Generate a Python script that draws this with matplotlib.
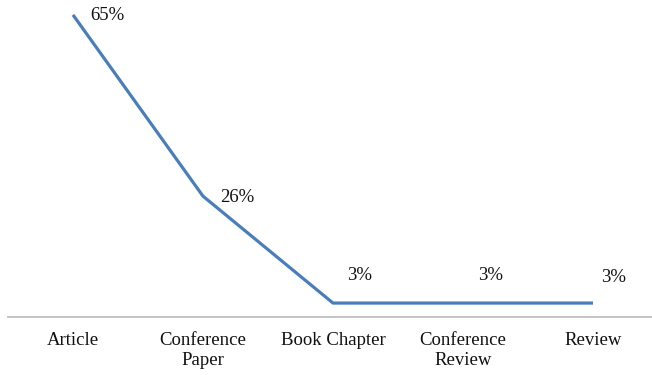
import matplotlib.pyplot as plt

categories = ['Article', 'Conference\nPaper', 'Book Chapter', 'Conference\nReview', 'Review']
shares = [65, 26, 3, 3, 3]
label_offsets = [(34, -1), (34, -1), (27, 28), (28, 28), (21, 26)]

plt.rcParams['font.family'] = ['Liberation Serif', 'DejaVu Serif']

fig = plt.figure(figsize=(6.52, 3.75), dpi=100)
ax = fig.add_axes([8 / 652, 58 / 375, 1 - 8 / 652, 317 / 375])

x = range(len(categories))
ax.plot(x, shares, color='#4A7EBB', linewidth=2.3, solid_capstyle='butt')

for i, v in enumerate(shares):
    ax.annotate(f'{v}%', (i, v), xytext=label_offsets[i], textcoords='offset pixels',
                ha='center', va='center', fontsize=13.5, color='#111111')

ax.set_xlim(-0.5, 4.454)
ax.set_ylim(0, 68.2)
ax.set_xticks(list(x))
ax.set_xticklabels(categories, fontsize=13.5, color='#111111', linespacing=1.22)
ax.tick_params(axis='x', length=0, pad=11)
ax.set_yticks([])
for side in ['top', 'right', 'left']:
    ax.spines[side].set_visible(False)
ax.spines['bottom'].set_color('#BFBFBF')
ax.spines['bottom'].set_linewidth(1.3)

fig.savefig('out.png', dpi=100)
